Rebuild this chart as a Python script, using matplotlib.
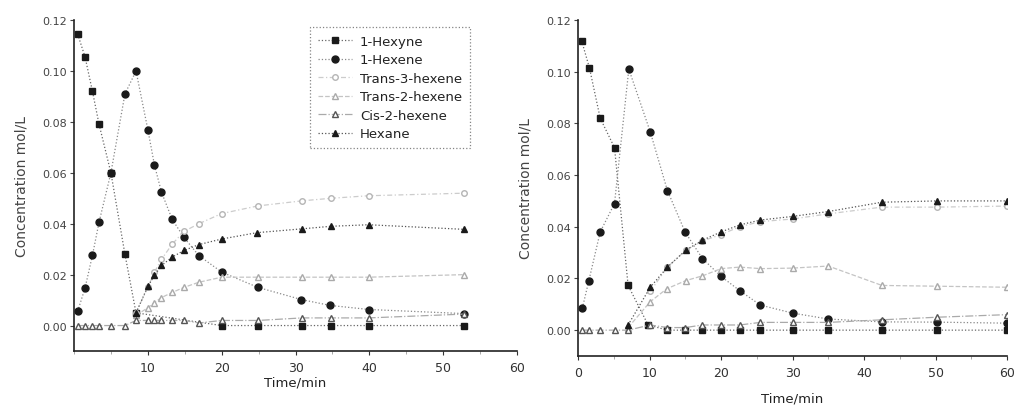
import matplotlib
matplotlib.use("Agg")
import matplotlib.pyplot as plt
from matplotlib.ticker import MultipleLocator

# ---------------- data: left panel ----------------
L_hexyne_t = [0.5, 1.5, 2.5, 3.4, 5.0, 6.9, 8.4, 20.0, 24.9, 30.9, 34.8, 39.9, 52.8]
L_hexyne_c = [0.1145, 0.1055, 0.092, 0.079, 0.060, 0.028, 0.005, 0.0, 0.0, 0.0, 0.0, 0.0, 0.0]

L_hexene_t = [0.5, 1.5, 2.5, 3.4, 5.0, 6.9, 8.4, 10.0, 10.9, 11.85, 13.3, 14.9, 16.9, 20.0, 24.9, 30.8, 34.7, 40.0, 52.8]
L_hexene_c = [0.0056, 0.0148, 0.0276, 0.0407, 0.060, 0.091, 0.100, 0.077, 0.063, 0.0524, 0.0417, 0.0346, 0.0275, 0.021, 0.015, 0.0102, 0.0079, 0.0063, 0.0047]

L_t3_t = [8.4, 10.0, 10.9, 11.85, 13.3, 14.9, 16.9, 20.0, 24.9, 30.9, 34.8, 39.9, 52.8]
L_t3_c = [0.005, 0.015, 0.021, 0.026, 0.032, 0.037, 0.040, 0.044, 0.047, 0.049, 0.050, 0.051, 0.052]

L_t2_t = [8.4, 10.0, 10.9, 11.85, 13.3, 14.9, 16.9, 20.0, 24.9, 30.9, 34.8, 39.9, 52.8]
L_t2_c = [0.004, 0.007, 0.009, 0.011, 0.013, 0.015, 0.017, 0.019, 0.019, 0.019, 0.019, 0.019, 0.020]

L_c2_t = [0.5, 1.5, 2.5, 3.4, 5.0, 6.9, 8.4, 10.0, 10.9, 11.85, 13.3, 14.9, 16.9, 20.0, 24.9, 30.9, 34.8, 39.9, 52.8]
L_c2_c = [0.0, 0.0, 0.0, 0.0, 0.0, 0.0, 0.002, 0.002, 0.002, 0.002, 0.002, 0.002, 0.001, 0.002, 0.002, 0.003, 0.003, 0.003, 0.0045]

L_hexane_t = [8.4, 10.0, 10.9, 11.85, 13.3, 14.9, 16.9, 20.0, 24.8, 30.9, 34.8, 39.9, 52.8]
L_hexane_c = [0.005, 0.0154, 0.0197, 0.0236, 0.0269, 0.0295, 0.0318, 0.034, 0.0365, 0.038, 0.039, 0.0396, 0.0378]

# ---------------- data: right panel ----------------
R_hexyne_t = [0.5, 1.6, 3.1, 5.1, 7.0, 9.8, 12.5, 15.0, 17.4, 20.0, 22.6, 25.5, 30.0, 35.0, 42.5, 50.2, 60.0]
R_hexyne_c = [0.112, 0.1014, 0.082, 0.0706, 0.0173, 0.002, 0.0, 0.0, 0.0, 0.0, 0.0, 0.0, 0.0, 0.0, 0.0, 0.0, 0.0]

R_hexene_t = [0.6, 1.5, 3.1, 5.1, 7.1, 10.1, 12.5, 15.0, 17.4, 20.0, 22.6, 25.5, 30.0, 35.0, 42.5, 50.2, 60.0]
R_hexene_c = [0.0085, 0.019, 0.038, 0.049, 0.101, 0.0767, 0.054, 0.0378, 0.0277, 0.0208, 0.0153, 0.0097, 0.0066, 0.0043, 0.0032, 0.0031, 0.0027]

R_t3_t = [10.1, 12.5, 15.1, 17.4, 20.0, 22.6, 25.5, 30.0, 35.0, 42.5, 50.2, 60.0]
R_t3_c = [0.015, 0.0244, 0.031, 0.0345, 0.037, 0.040, 0.042, 0.043, 0.045, 0.0476, 0.0476, 0.048]

R_t2_t = [7.0, 10.1, 12.4, 15.1, 17.4, 20.0, 22.6, 25.5, 30.0, 35.0, 42.5, 50.2, 60.0]
R_t2_c = [0.001, 0.011, 0.016, 0.0192, 0.021, 0.0238, 0.0244, 0.0238, 0.024, 0.0248, 0.0173, 0.017, 0.0166]

R_c2_t = [0.6, 1.5, 3.1, 5.1, 7.0, 10.1, 12.5, 15.0, 17.4, 20.0, 22.6, 25.5, 30.0, 35.0, 42.5, 50.2, 60.0]
R_c2_c = [0.0, 0.0, 0.0, 0.0, 0.0, 0.002, 0.001, 0.001, 0.002, 0.002, 0.002, 0.003, 0.003, 0.003, 0.004, 0.005, 0.006]

R_hexane_t = [7.0, 10.1, 12.5, 15.1, 17.4, 20.0, 22.6, 25.5, 30.0, 35.0, 42.5, 50.2, 60.0]
R_hexane_c = [0.002, 0.0166, 0.0244, 0.031, 0.0348, 0.038, 0.0407, 0.0426, 0.044, 0.0459, 0.0495, 0.050, 0.050]

labels = ["1-Hexyne", "1-Hexene", "Trans-3-hexene", "Trans-2-hexene", "Cis-2-hexene", "Hexane"]
y_ticks = [0.00, 0.02, 0.04, 0.06, 0.08, 0.10, 0.12]

plt.rcParams['font.family'] = ['DejaVu Sans']

fig = plt.figure(figsize=(10.15, 4.06), dpi=100)
axL = fig.add_axes([0.0729, 0.133, 0.4365, 0.815])
axR = fig.add_axes([0.5695, 0.1207, 0.4227, 0.8276])

DARK = '#1a1a1a'


def draw(ax, d):
    h = []
    h += ax.plot(d[0][0], d[0][1], ls=':', color='#666666', lw=0.9, marker='s', ms=4.5,
                 mfc=DARK, mec=DARK, label=labels[0])
    h += ax.plot(d[1][0], d[1][1], ls=':', color='#888888', lw=0.9, marker='o', ms=5,
                 mfc=DARK, mec=DARK, label=labels[1])
    h += ax.plot(d[2][0], d[2][1], ls=(0, (4, 2, 1, 2)), color='#cccccc', lw=0.9, marker='o', ms=4,
                 mfc='white', mec='#b5b5b5', label=labels[2])
    h += ax.plot(d[3][0], d[3][1], ls='--', color='#c4c4c4', lw=0.9, marker='^', ms=4,
                 mfc='white', mec='#aaaaaa', label=labels[3])
    h += ax.plot(d[4][0], d[4][1], ls='-.', color='#aaaaaa', lw=0.9, marker='^', ms=4.5,
                 mfc='white', mec='#555555', label=labels[4])
    h += ax.plot(d[5][0], d[5][1], ls=':', color='#555555', lw=0.9, marker='^', ms=5,
                 mfc=DARK, mec=DARK, label=labels[5])
    ax.set_xlim(0, 60)
    ax.set_ylim(-0.01, 0.12)
    ax.set_yticks(y_ticks)
    ax.set_yticklabels([f"{v:.2f}" for v in y_ticks], fontsize=8, color='#444444')
    ax.xaxis.set_minor_locator(MultipleLocator(5))
    for s in ['top', 'right']:
        ax.spines[s].set_visible(False)
    for s in ['left', 'bottom']:
        ax.spines[s].set_color('#222222')
        ax.spines[s].set_linewidth(1.2)
    ax.tick_params(axis='y', length=3, width=0.8, colors='#444444', pad=2)
    ax.tick_params(axis='x', which='major', length=3, width=0.8, labelsize=9, colors='#333333', pad=4)
    ax.tick_params(axis='x', which='minor', length=2, width=0.6, colors='#999999')
    ax.set_ylabel("Concentration mol/L", fontsize=10, color='#444444', labelpad=10)
    return h


hL = draw(axL, [(L_hexyne_t, L_hexyne_c), (L_hexene_t, L_hexene_c), (L_t3_t, L_t3_c),
                (L_t2_t, L_t2_c), (L_c2_t, L_c2_c), (L_hexane_t, L_hexane_c)])
axL.set_xticks([10, 20, 30, 40, 50, 60])
axL.set_xlabel("Time/min", fontsize=9.5, color='#222222', labelpad=1)

draw(axR, [(R_hexyne_t, R_hexyne_c), (R_hexene_t, R_hexene_c), (R_t3_t, R_t3_c),
           (R_t2_t, R_t2_c), (R_c2_t, R_c2_c), (R_hexane_t, R_hexane_c)])
axR.set_xticks([0, 10, 20, 30, 40, 50, 60])
axR.set_xlabel("Time/min", fontsize=9.5, color='#222222', labelpad=9)

leg = axL.legend(handles=hL, loc='upper left', bbox_to_anchor=(0.517, 1.0), fontsize=9.5,
                 frameon=True, fancybox=False, handlelength=2.6, labelspacing=0.42,
                 borderpad=0.6, handletextpad=0.6)
fr = leg.get_frame()
fr.set_linestyle(':')
fr.set_edgecolor('#666666')
fr.set_linewidth(0.9)
for t in leg.get_texts():
    t.set_color('#222222')

fig.savefig("out.png", dpi=100, facecolor='white')
